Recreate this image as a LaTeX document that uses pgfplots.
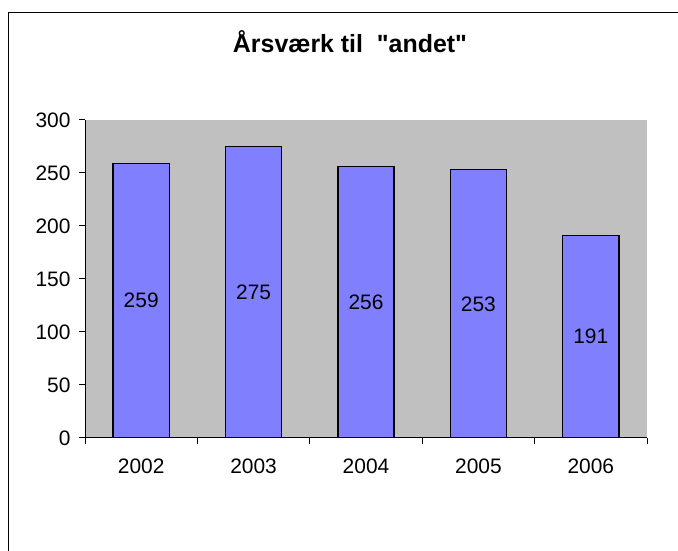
\documentclass[border=0pt]{standalone}
\usepackage{pgfplots}
\pgfplotsset{compat=1.18}
\usepackage{fontspec}
\setmainfont{Liberation Sans}[Ligatures=TeXOff]
\definecolor{barblue}{HTML}{8080FF}
\definecolor{plotgray}{HTML}{C0C0C0}
\begin{document}
\begin{tikzpicture}[x=1bp,y=1bp]
\useasboundingbox (0,0) rectangle (678,551);
\begin{scope}
\clip (0,0) rectangle (678,551);
\draw[line width=1.2bp] (8.5,-20) -- (8.5,538.5) -- (700,538.5);
\end{scope}
\node[font=\fontsize{25}{30}\selectfont\bfseries, anchor=base] at (350,498.5) {Årsværk til \ "andet"};
\begin{axis}[
  at={(85bp,113bp)}, anchor=south west,
  scale only axis, width=562bp, height=318bp,
  xmin=-0.5, xmax=4.5, ymin=0, ymax=300,
  axis x line=bottom, axis y line=left,
  axis line style={-, line width=1bp, black},
  axis background/.style={fill=plotgray},
  ytick={0,50,...,300},
  xtick={0,1,2,3,4},
  xticklabels={2002,2003,2004,2005,2006},
  minor xtick={-0.5,0.5,1.5,2.5,3.5,4.5},
  major x tick style={draw=none},
  tick style={black, line width=1bp},
  tickwidth=6bp, subtickwidth=6bp,
  tick align=outside,
  /pgf/number format/assume math mode=true,
  ticklabel style={font=\fontsize{21}{25}\selectfont},
  yticklabel style={xshift=-5bp},
  xticklabel style={yshift=-11bp},
  bar width=56.2bp,
  nodes near coords,
  visualization depends on=y \as \rawy,
  every node near coord/.append style={font=\fontsize{21}{25}\selectfont, anchor=center, shift={(axis direction cs:0,-\rawy/2)}},
]
\addplot[ybar, fill=barblue, draw=black, line width=1.3bp] coordinates {
(0,259) (1,275) (2,256) (3,253) (4,191)
};
\end{axis}
\end{tikzpicture}
\end{document}
